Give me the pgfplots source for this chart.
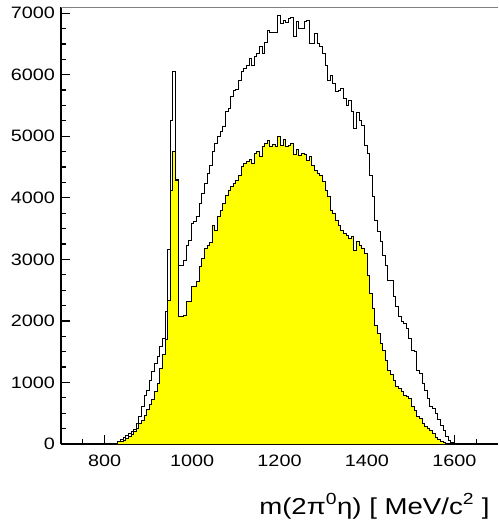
\documentclass[border=0pt]{standalone}
\usepackage{fontspec}
\newfontfamily\rootfont{Liberation Sans}[FakeStretch=1.2]
\usepackage{pgfplots}
\usepackage{pgfplotstable}
\pgfplotsset{compat=1.18}
\definecolor{rootyellow}{RGB}{255,255,0}
\pgfplotstableread{
m out in
818 0 0
824 8 5
830 45 38
836 75 50
842 110 65
848 146 92
854 173 119
860 200 150
866 240 200
872 335 260
878 444 330
884 606 390
890 796 470
896 877 560
902 1040 650
908 1175 720
914 1310 850
920 1420 985
926 1581 1229
932 1716 1450
938 2150 1700
944 3162 2339
950 5262 4126
956 6048 4748
962 4300 4288
968 2907 2068
974 2907 2068
980 2989 2095
986 3232 2312
992 3313 2312
998 3584 2555
1004 3620 2555
1010 3692 2636
1016 3909 2880
1022 4071 3016
1028 4234 3178
1034 4396 3232
1040 4521 3270
1046 4759 3557
1052 4884 3476
1058 4992 3692
1064 5084 3800
1070 5154 3909
1076 5398 4044
1082 5452 4126
1088 5641 4180
1094 5750 4234
1100 5761 4288
1106 5900 4369
1112 6048 4505
1118 6102 4559
1124 6150 4590
1130 6264 4624
1136 6156 4559
1142 6291 4721
1148 6345 4748
1154 6454 4667
1160 6345 4829
1166 6519 4884
1172 6724 4927
1178 6687 4829
1184 6687 4870
1190 6687 4829
1196 6957 4992
1202 6833 4856
1208 6887 4948
1214 6843 4829
1220 6914 4856
1226 6930 4884
1232 6627 4700
1238 6860 4780
1244 6752 4694
1250 6752 4720
1256 6860 4700
1262 6876 4613
1268 6508 4667
1274 6508 4532
1280 6670 4450
1286 6508 4396
1292 6454 4369
1298 6345 4260
1304 6156 4126
1310 5912 4017
1316 5993 3801
1322 5858 3747
1328 5723 3638
1334 5750 3557
1340 5777 3476
1346 5614 3420
1352 5506 3395
1358 5587 3340
1364 5398 3380
1370 5127 3151
1376 5382 3286
1382 5263 3230
1388 5181 3178
1394 4856 3097
1400 4721 2745
1406 4369 2450
1412 4017 2204
1418 3627 1933
1424 3449 1798
1430 3286 1635
1436 3070 1527
1442 2907 1364
1448 2664 1202
1454 2664 1137
1460 2393 1040
1466 2231 931
1472 2068 904
1478 1987 850
1484 1960 796
1490 1879 770
1496 1716 742
1502 1527 606
1508 1500 552
1514 1202 444
1520 1148 417
1526 985 335
1532 877 282
1538 742 260
1544 617 227
1550 580 173
1556 498 108
1562 401 80
1568 309 50
1574 227 30
1580 120 15
1586 60 8
1592 25 3
1598 5 0
1604 0 0
}\hist
\begin{document}
\begin{tikzpicture}
\begin{axis}[
  name=ax, at={(0,0)}, anchor=south west,
  width=437pt, height=437pt, scale only axis,
  xmin=700, xmax=1700, ymin=0, ymax=7100,
  axis x line=bottom, axis y line=left,
  axis line style={-, line width=1.5pt, black},
  xtick={800,1000,...,1600},
  minor xtick={750,850,900,950,1050,1100,1150,1250,1300,1350,1450,1500,1550,1650},
  ytick={0,1000,...,7000}, minor y tick num=3,
  tick align=inside,
  major tick length=9pt, minor tick length=4.5pt,
  every tick/.style={black, line width=1.2pt},
  tick label style={font=\rootfont\fontsize{16.5}{18}\selectfont},
  /pgf/number format/assume math mode=true,
  /pgf/number format/set thousands separator={},
  scaled y ticks=false,
  xticklabel style={yshift=-7pt},
  yticklabel style={xshift=-2.5pt},
  xlabel={m(2π\textsuperscript{0}η) [ MeV/c\textsuperscript{2} ]},
  xlabel style={at={(rel axis cs:1,0)}, anchor=base east, yshift=-70pt, xshift=-5pt,
    font=\rootfont\fontsize{23}{26}\selectfont},
]
\addplot[const plot mark left, black, line width=0.8pt] table[x=m, y=out] {\hist};
\addplot[const plot mark left, fill=rootyellow, draw=black, line width=0.8pt] table[x=m, y=in] {\hist} \closedcycle;
\end{axis}
\draw[gray, line width=0.8pt] (ax.north west) -- (ax.north east);
\pgfresetboundingbox
\path[use as bounding box] ([xshift=-61pt,yshift=-81pt]ax.south west) rectangle ([yshift=7pt]ax.north east);
\end{tikzpicture}
\end{document}
